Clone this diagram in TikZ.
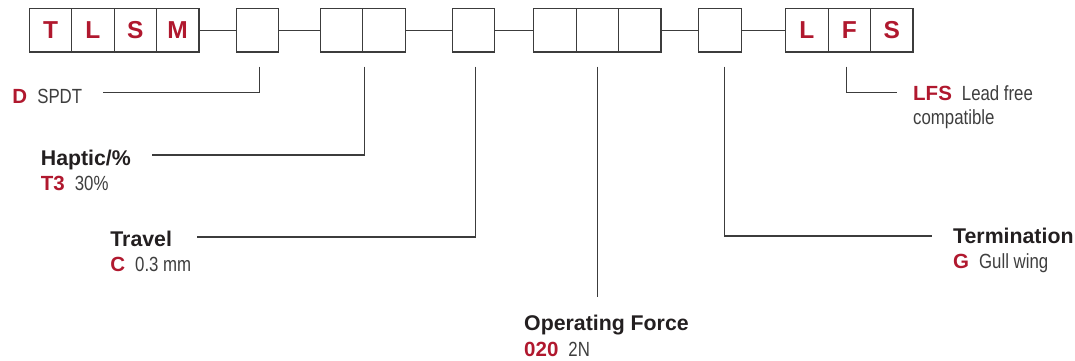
\documentclass[tikz,border=0pt]{standalone}
\usepackage{fontspec}
\setmainfont{Liberation Sans}
\newfontfamily\condfont[FakeStretch=0.82]{Liberation Sans}
\usepackage{xcolor}
\usetikzlibrary{positioning, calc}

\definecolor{codered}{RGB}{176,24,46}
\definecolor{linegray}{RGB}{60,60,60}
\definecolor{valgray}{RGB}{62,62,62}
\definecolor{headblack}{RGB}{35,31,32}

\newcommand{\code}[1]{{\color{codered}\bfseries #1}}
\newcommand{\val}[1]{{\condfont\color{valgray}#1}}

\begin{document}
\begin{tikzpicture}[
    x=1pt, y=1pt,
    node distance=0pt,
    box/.style={rectangle, draw=linegray, line width=1.2pt, outer sep=0pt, minimum width=42.4pt, minimum height=43.3pt, inner sep=0pt, font=\fontsize{24.5}{24.5}\selectfont\bfseries, text=codered},
    link/.style={draw=linegray, line width=1.1pt},
    head/.style={anchor=base west, inner sep=0pt, font=\fontsize{21.3}{24}\selectfont\bfseries, text=headblack},
    opt/.style={anchor=base west, inner sep=0pt, font=\fontsize{20.5}{24}\selectfont}
]
\useasboundingbox (0,0) rectangle (1075,-360);

% Part number boxes
\node[box] (t) at (50.5,-30.3) {T};
\node[box, right=of t] (l) {L};
\node[box, right=of l] (s) {S};
\node[box, right=of s] (m) {M};
\node[box, right=37.5pt of m] (sw) {};
\node[box, right=41.6pt of sw] (hapa) {};
\node[box, right=of hapa] (hapb) {};
\node[box, right=47.2pt of hapb] (trav) {};
\node[box, right=38.9pt of trav] (fa) {};
\node[box, right=of fa] (fb) {};
\node[box, right=of fb] (fc) {};
\node[box, right=37.8pt of fc] (term) {};
\node[box, right=44.6pt of term] (lf) {L};
\node[box, right=of lf] (ff) {F};
\node[box, right=of ff] (fs) {S};

% Joining lines
\draw[link] (m) -- (sw);
\draw[link] (sw) -- (hapa);
\draw[link] (hapb) -- (trav);
\draw[link] (trav) -- (fa);
\draw[link] (fc) -- (term);
\draw[link] (term) -- (lf);

% Option labels
\node[opt] (spdt) at (12.3,-103.3) {\code{D}\hspace{10pt}\val{SPDT}};
\node[head] (haptic) at (40.7,-165) {Haptic/\%};
\node[opt] (hapval) at ([yshift=-25pt]haptic.base west) {\code{T3}\hspace{10pt}\val{30\%}};
\node[head] (travel) at (110.2,-246) {Travel};
\node[opt] (travval) at ([yshift=-25pt]travel.base west) {\code{C}\hspace{10pt}\val{0.3 mm}};
\node[head] (opforce) at (524,-330.7) {Operating Force};
\node[opt] (opval) at ([yshift=-25.3pt]opforce.base west) {\code{020}\hspace{10pt}\val{2N}};
\node[head] (termin) at (953,-243) {Termination};
\node[opt] (termval) at ([yshift=-25pt]termin.base west) {\code{G}\hspace{10pt}\val{Gull wing}};
\node[opt] (lfs) at (913,-100.5) {\code{LFS}\hspace{10pt}\val{Lead free}};
\node[opt] (lfsb) at ([yshift=-24pt]lfs.base west) {\val{compatible}};

% Leader lines
\draw[link] ([xshift=2.1pt, yshift=-14.7pt]sw.south) |- ([xshift=90.4pt, yshift=11pt]spdt.base west);
\draw[link] ([xshift=1.9pt, yshift=-14.7pt]hapa.south east) |- ([xshift=111pt, yshift=10pt]haptic.base west);
\draw[link] ([xshift=1.8pt, yshift=-14.7pt]trav.south) |- ([xshift=87.1pt, yshift=9pt]travel.base west);
\draw[link] ([yshift=-14.7pt]fb.south) -- ($(fb.south |- opforce.base)+(0,34)$);
\draw[link] ([xshift=4.5pt, yshift=-14.7pt]term.south) |- ([xshift=-21.3pt, yshift=7pt]termin.base west);
\draw[link] ([xshift=-3.2pt, yshift=-14.7pt]ff.south) |- ([xshift=-16pt, yshift=8.2pt]lfs.base west);
\end{tikzpicture}
\end{document}
